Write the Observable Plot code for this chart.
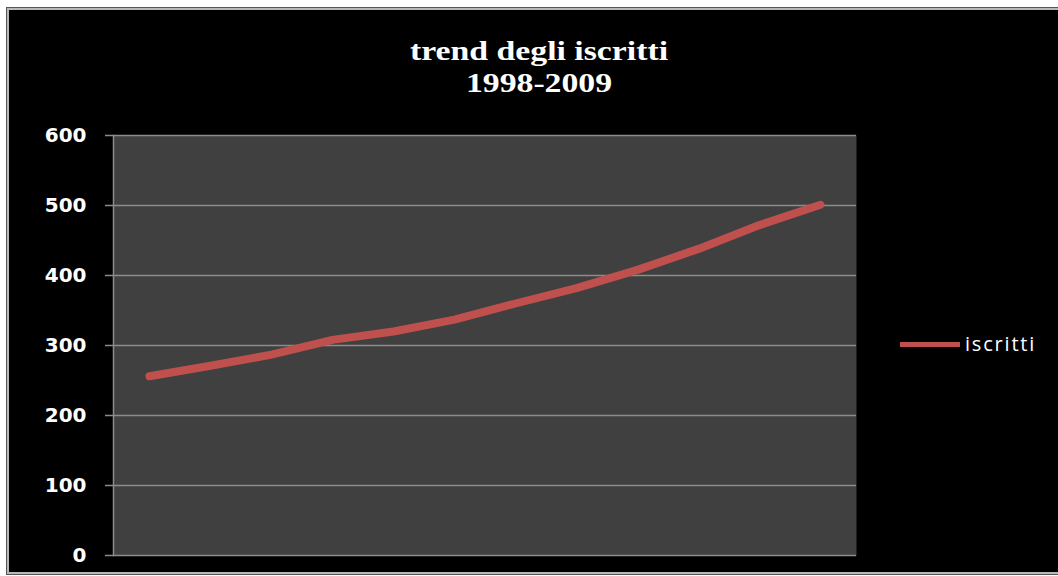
<!DOCTYPE html>
<html>
<head>
<meta charset="utf-8">
<script src="https://cdn.jsdelivr.net/npm/d3@7"></script>
<script src="https://cdn.jsdelivr.net/npm/@observablehq/plot@0.6"></script>
<style>
  html, body { margin: 0; padding: 0; background: #ffffff; width: 1058px; height: 576px; overflow: hidden; }
  #frame { position: absolute; left: 6px; top: 7px; width: 1100px; height: 568px; background: #000; border: 1px solid #555; box-shadow: inset 0 0 0 2px #b8b8b8; box-sizing: border-box; }
  #title { position: absolute; left: 339px; width: 400px; top: 35px; text-align: center; color: #fff; font-family: "Liberation Serif", "Times New Roman", serif; font-weight: bold; font-size: 27px; line-height: 32px; transform: scaleX(1.25); transform-origin: 200px 0; white-space: nowrap; }
  #chart { position: absolute; left: 0; top: 0; }
  #legend-swatch { position: absolute; left: 900px; top: 342px; width: 60px; height: 4.5px; background: #c0504d; }
  #legend-label { position: absolute; left: 965px; top: 330px; color: #fff; font-family: "Open Sans", "DejaVu Sans", sans-serif; font-size: 20px; line-height: 28px; letter-spacing: 1.8px; white-space: nowrap; }
</style>
</head>
<body>
<div id="frame"></div>
<div id="title">trend degli iscritti<br>1998-2009</div>
<div id="chart"></div>
<div id="legend-swatch"></div>
<div id="legend-label"></div>
<script>
const years = ["1998","1999","2000","2001","2002","2003","2004","2005","2006","2007","2008","2009"];
const iscritti = [256, 271, 287, 308, 320, 337, 360, 382, 408, 438, 472, 501];
const yTicks = [0, 100, 200, 300, 400, 500, 600];
const seriesName = "iscritti";

const data = years.map((y, i) => ({anno: y, valore: iscritti[i]}));
document.getElementById("legend-label").textContent = seriesName;

const chart = Plot.plot({
  width: 1058,
  height: 576,
  marginTop: 135,
  marginBottom: 21,
  marginLeft: 113,
  marginRight: 202,
  style: {background: "transparent", color: "#fff", fontFamily: "'DejaVu Sans', sans-serif", fontSize: "20px", fontWeight: "bold"},
  x: {type: "point", domain: years, padding: 0.5, axis: null},
  y: {domain: [0, 600], axis: null},
  marks: [
    Plot.frame({fill: "#404040", stroke: null}),
    Plot.ruleY(yTicks.filter(d => d > 0), {stroke: "#8c8c8c", strokeWidth: 1.5}),
    Plot.frame({anchor: "left", stroke: "#8c8c8c", strokeWidth: 1.5}),
    Plot.ruleY([0], {stroke: "#8c8c8c", strokeWidth: 1.5}),
    Plot.axisY({ticks: yTicks, tickSize: 8, tickPadding: 19, stroke: "#8c8c8c", strokeWidth: 1.5, fill: "#fff", label: null, tickFormat: d => String(d)}),
    Plot.line(data, {x: "anno", y: "valore", stroke: "#c0504d", strokeWidth: 8, strokeLinecap: "round", strokeLinejoin: "round"})
  ]
});
document.getElementById("chart").appendChild(chart);
</script>
</body>
</html>
